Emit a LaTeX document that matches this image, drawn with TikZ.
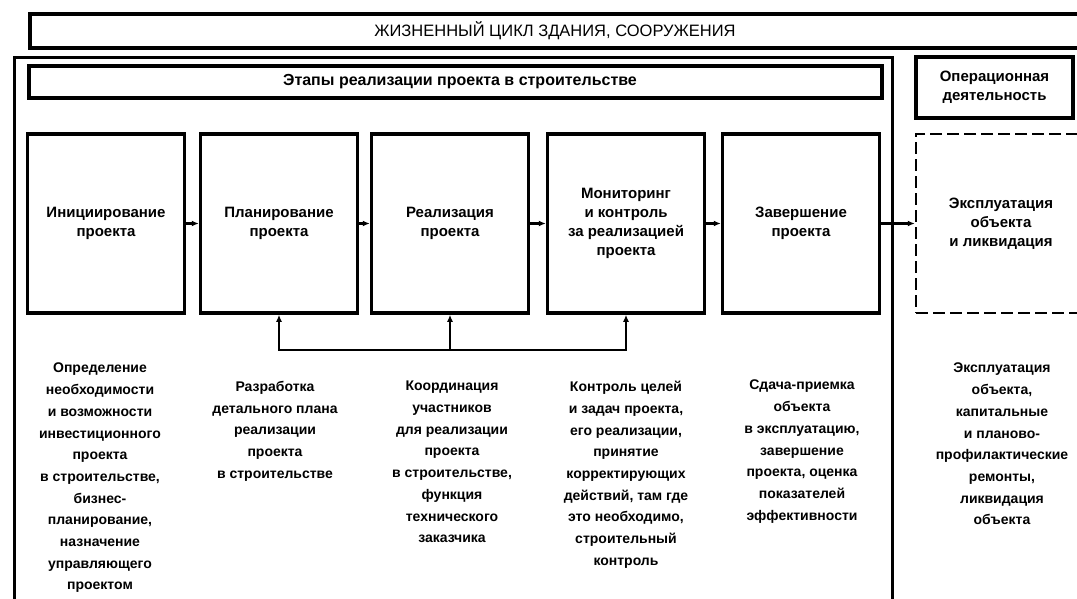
\documentclass[tikz,border=0pt]{standalone}
\usepackage{fontspec}
\setmainfont{Liberation Sans}
\usetikzlibrary{arrows.meta}
\begin{document}
\begin{tikzpicture}[x=1pt,y=-1pt,
  frame/.style={line width=3.5pt},
  stage/.style={draw, line width=3.5pt, minimum width=157pt, minimum height=179pt, inner sep=0pt, align=center, font=\bfseries\fontsize{15}{19}\selectfont},
  desc/.style={anchor=north, inner sep=0pt, align=center, font=\bfseries\fontsize{14}{21.7}\selectfont},
  arr/.style={line width=2.5pt, -{Latex[length=7pt,width=6pt]}},
  barr/.style={line width=2.5pt, {Latex[length=7pt,width=6pt]}-{Latex[length=7pt,width=6pt]}}]
\clip (0,0) rectangle (1077,598);
\fill[white] (0,0) rectangle (1077,598);
% title
\draw[frame] (30,14) rectangle (1100,48);
\node[font=\fontsize{16.5}{20}\selectfont] (title) at (555,31) {ЖИЗНЕННЫЙ ЦИКЛ ЗДАНИЯ, СООРУЖЕНИЯ};
% main frame
\draw[line width=3pt] (14,57) rectangle (892,650);
\draw[frame] (29,66) rectangle (882,98);
\node[font=\bfseries\fontsize{16}{19}\selectfont] (hdr) at (460,82) {Этапы реализации проекта в строительстве};
\node[draw, frame, minimum width=157pt, minimum height=61pt, inner sep=0pt, align=center, font=\bfseries\fontsize{15}{19}\selectfont] (op) at (994.5,87.5) {Операционная\\деятельность};
% stages
\node[stage] (b1) at (106,223.5) {Инициирование\\проекта};
\node[stage] (b2) at (279,223.5) {Планирование\\проекта};
\node[stage] (b3) at (450,223.5) {Реализация\\проекта};
\node[stage] (b4) at (626,223.5) {Мониторинг\\и контроль\\за реализацией\\проекта};
\node[stage] (b5) at (801,223.5) {Завершение\\проекта};
\node[stage, dash pattern=on 12pt off 5pt, line width=2.5pt, minimum width=170pt] (b6) at (1001,223.5) {Эксплуатация\\объекта\\и ликвидация};
\draw[arr] (b1) -- (b2);
\draw[arr] (b2) -- (b3);
\draw[arr] (b3) -- (b4);
\draw[arr] (b4) -- (b5);
\draw[arr] (b5) -- (b6);
% feedback
\coordinate (f2) at (279,350);
\coordinate (f3) at (450,350);
\coordinate (f4) at (626,350);
\draw[barr] (f2 |- b2.south) -- (f2) -- (f4) -- (f4 |- b4.south);
\draw[arr] (f3) -- (f3 |- b3.south);
% descriptions
\node[desc] (d1) at (100,363) {Определение\\необходимости\\и возможности\\инвестиционного\\проекта\\в строительстве,\\бизнес-\\планирование,\\назначение\\управляющего\\проектом};
\node[desc] (d2) at (275,381) {Разработка\\детального плана\\реализации\\проекта\\в строительстве};
\node[desc] (d3) at (452,381) {Координация\\участников\\для реализации\\проекта\\в строительстве,\\функция\\технического\\заказчика};
\node[desc] (d4) at (626,381) {Контроль целей\\и задач проекта,\\его реализации,\\принятие\\корректирующих\\действий, там где\\это необходимо,\\строительный\\контроль};
\node[desc] (d5) at (802,380) {Сдача-приемка\\объекта\\в эксплуатацию,\\завершение\\проекта, оценка\\показателей\\эффективности};
\node[desc] (d6) at (1002,363) {Эксплуатация\\объекта,\\капитальные\\и планово-\\профилактические\\ремонты,\\ликвидация\\объекта};
\end{tikzpicture}
\end{document}
